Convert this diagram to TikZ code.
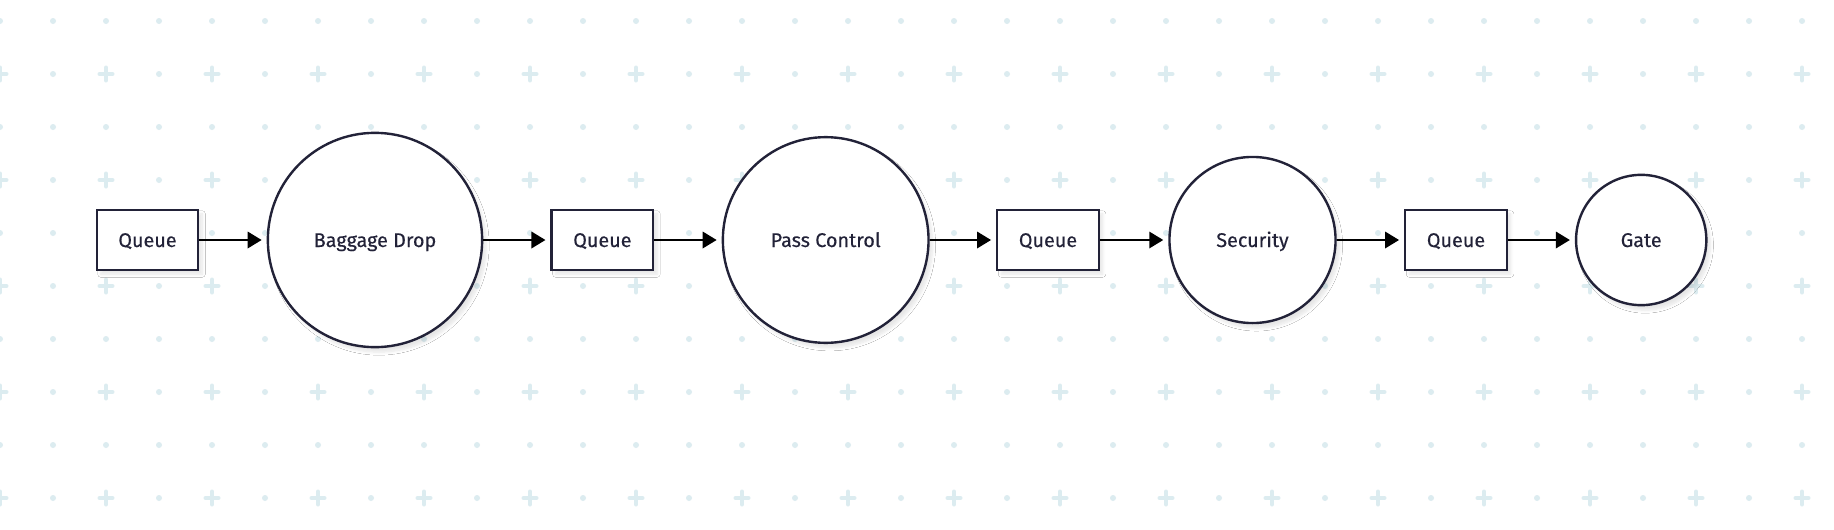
\documentclass[tikz,border=0pt]{standalone}
\usepackage{fontspec}
\setmainfont{Fira Sans}
\newfontfamily\lblfont{Fira Sans}[FakeBold=0.3]
\usetikzlibrary{arrows.meta,shadows.blur}
\definecolor{ink}{RGB}{34,34,56}
\definecolor{grid}{RGB}{220,236,240}
\tikzset{
  lbl/.style={font=\lblfont\fontsize{19.8}{22}\selectfont,text=ink,text height=14pt,text depth=0pt},
  qbox/.style={lbl,draw=ink,line width=2.4pt,fill=white,rectangle,minimum width=101.5pt,minimum height=60.5pt,inner sep=0pt,
    blur shadow={shadow xshift=4pt,shadow yshift=-4pt,shadow blur radius=3pt,shadow blur steps=6,shadow opacity=10}},
  station/.style={lbl,draw=ink,line width=2.4pt,fill=white,circle,inner sep=0pt,
    blur shadow={shadow xshift=4pt,shadow yshift=-5pt,shadow blur radius=3pt,shadow blur steps=6,shadow opacity=10}},
  flow/.style={black,line width=1.9pt,-{Triangle[length=14pt,width=16.5pt]},shorten >=5pt},
  gdot/.style={fill=grid},
  gplus/.style={draw=grid,line width=4pt,line cap=round}
}
\begin{document}
\begin{tikzpicture}[x=1pt,y=-1pt]
\useasboundingbox (0,0) rectangle (1834,530);
\fill[white] (0,0) rectangle (1834,530);
% background pattern
\foreach \j in {0,...,9}{
  \foreach \i in {0,...,34}{
    \pgfmathtruncatemacro{\jo}{mod(\j,2)}
    \pgfmathtruncatemacro{\ie}{mod(\i,2)}
    \pgfmathsetmacro{\gx}{53*\i}
    \pgfmathsetmacro{\gy}{21+53*\j}
    \ifnum\jo=1 \ifnum\ie=0
      \draw[gplus] (\gx-6.5,\gy) -- (\gx+6.5,\gy) (\gx,\gy-6.5) -- (\gx,\gy+6.5);
    \else
      \fill[gdot] (\gx,\gy) circle (3pt);
    \fi\else
      \fill[gdot] (\gx,\gy) circle (3pt);
    \fi
  }
}
% nodes
\node[qbox] (q1) at (147.5,240) {Queue};
\node[station,minimum size=214.3pt] (c1) at (375,240) {Baggage Drop};
\node[qbox] (q2) at (602.4,240) {Queue};
\node[station,minimum size=205.7pt] (c2) at (825.7,240) {Pass Control};
\node[qbox] (q3) at (1048,240) {Queue};
\node[station,minimum size=166.1pt] (c3) at (1252.5,240) {Security};
\node[qbox] (q4) at (1456,240) {Queue};
\node[station,minimum size=130.3pt] (c4) at (1641.2,240) {Gate};
% connectors
\draw[flow] (q1.east) -- (c1.west);
\draw[flow] (c1.east) -- (q2.west);
\draw[flow] (q2.east) -- (c2.west);
\draw[flow] (c2.east) -- (q3.west);
\draw[flow] (q3.east) -- (c3.west);
\draw[flow] (c3.east) -- (q4.west);
\draw[flow] (q4.east) -- (c4.west);
\end{tikzpicture}
\end{document}
